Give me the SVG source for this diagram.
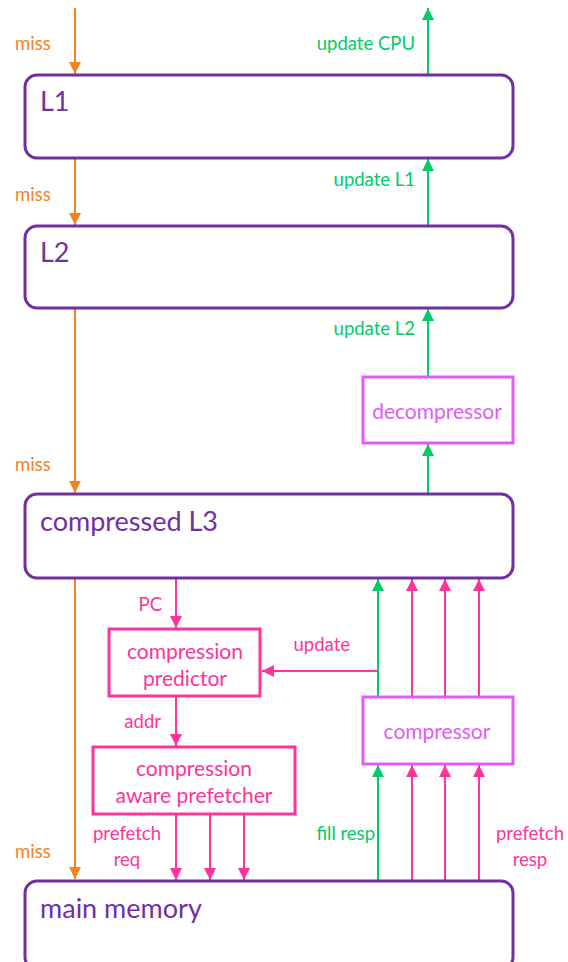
<svg xmlns="http://www.w3.org/2000/svg" width="568" height="962" viewBox="0 0 568 962">
<style>
.cache{fill:#fff;stroke:#7030a0;stroke-width:3}
.pbox{fill:#fff;stroke:#ff3399;stroke-width:3}
.cbox{fill:#fff;stroke:#e05cf5;stroke-width:3}
.big{font-family:Lato,"Liberation Sans",sans-serif;fill:#7030a0;font-size:27px}
.lbl{font-family:Lato,"Liberation Sans",sans-serif;font-size:18.5px}
.btxt{font-family:Lato,"Liberation Sans",sans-serif;font-size:21px;text-anchor:middle}
.o{stroke:#f5821f;stroke-width:2;fill:none}
.g{stroke:#00cc66;stroke-width:2;fill:none}
.p{stroke:#ff3399;stroke-width:2;fill:none}
</style>
<defs>
<marker id="ao" markerUnits="userSpaceOnUse" markerWidth="12" markerHeight="12" viewBox="0 0 12 12" refX="12" refY="6" orient="auto"><path d="M0,0 L12,6 L0,12 z" fill="#f5821f"/></marker>
<marker id="ag" markerUnits="userSpaceOnUse" markerWidth="12" markerHeight="12" viewBox="0 0 12 12" refX="12" refY="6" orient="auto"><path d="M0,0 L12,6 L0,12 z" fill="#00cc66"/></marker>
<marker id="ap" markerUnits="userSpaceOnUse" markerWidth="12" markerHeight="12" viewBox="0 0 12 12" refX="12" refY="6" orient="auto"><path d="M0,0 L12,6 L0,12 z" fill="#ff3399"/></marker>
</defs>
<g id="connectors">
<line class="o" x1="75" y1="8" x2="75" y2="74" marker-end="url(#ao)"/>
<line class="o" x1="75" y1="159" x2="75" y2="225" marker-end="url(#ao)"/>
<line class="o" x1="75" y1="309" x2="75" y2="493" marker-end="url(#ao)"/>
<line class="o" x1="75" y1="579" x2="75" y2="879" marker-end="url(#ao)"/>
<line class="g" x1="428" y1="74" x2="428" y2="8" marker-end="url(#ag)"/>
<line class="g" x1="428" y1="225" x2="428" y2="159" marker-end="url(#ag)"/>
<line class="g" x1="428" y1="376" x2="428" y2="309" marker-end="url(#ag)"/>
<line class="g" x1="428" y1="493" x2="428" y2="444" marker-end="url(#ag)"/>
<line class="p" x1="176" y1="579" x2="176" y2="628" marker-end="url(#ap)"/>
<line class="p" x1="176" y1="697" x2="176" y2="746" marker-end="url(#ap)"/>
<line class="p" x1="378" y1="671" x2="262" y2="671" marker-end="url(#ap)"/>
<line class="p" x1="176" y1="815" x2="176" y2="880" marker-end="url(#ap)"/>
<line class="p" x1="210" y1="815" x2="210" y2="880" marker-end="url(#ap)"/>
<line class="p" x1="244" y1="815" x2="244" y2="880" marker-end="url(#ap)"/>
<line class="g" x1="378" y1="696" x2="378" y2="579" marker-end="url(#ag)"/>
<line class="p" x1="412" y1="696" x2="412" y2="579" marker-end="url(#ap)"/>
<line class="p" x1="445" y1="696" x2="445" y2="579" marker-end="url(#ap)"/>
<line class="p" x1="479" y1="696" x2="479" y2="579" marker-end="url(#ap)"/>
<line class="g" x1="378" y1="880" x2="378" y2="765" marker-end="url(#ag)"/>
<line class="p" x1="412" y1="880" x2="412" y2="765" marker-end="url(#ap)"/>
<line class="p" x1="445" y1="880" x2="445" y2="765" marker-end="url(#ap)"/>
<line class="p" x1="479" y1="880" x2="479" y2="765" marker-end="url(#ap)"/>
<g class="lbl">
<text x="15" y="50" fill="#f5821f">miss</text>
<text x="15" y="201" fill="#f5821f">miss</text>
<text x="15" y="471" fill="#f5821f">miss</text>
<text x="15" y="858" fill="#f5821f">miss</text>
<text x="415" y="50" fill="#00cc66" text-anchor="end">update CPU</text>
<text x="415" y="186" fill="#00cc66" text-anchor="end">update L1</text>
<text x="415" y="335" fill="#00cc66" text-anchor="end">update L2</text>
<text x="162" y="611" fill="#ff3399" text-anchor="end">PC</text>
<text x="350" y="651" fill="#ff3399" text-anchor="end">update</text>
<text x="161" y="728" fill="#ff3399" text-anchor="end">addr</text>
<text x="127" y="840" fill="#ff3399" text-anchor="middle">prefetch</text>
<text x="127" y="866" fill="#ff3399" text-anchor="middle">req</text>
<text x="375" y="840" fill="#00cc66" text-anchor="end">fill resp</text>
<text x="530" y="840" fill="#ff3399" text-anchor="middle">prefetch</text>
<text x="530" y="866" fill="#ff3399" text-anchor="middle">resp</text>
</g>
</g>
<g id="L1"><rect class="cache" x="25" y="75" width="488" height="83" rx="12"/><text class="big" x="40" y="111">L1</text></g>
<g id="L2"><rect class="cache" x="25" y="226" width="488" height="82" rx="12"/><text class="big" x="40" y="262">L2</text></g>
<g id="decompressor"><rect class="cbox" x="363" y="377" width="150" height="66"/><text class="btxt" x="437" y="419" fill="#e05cf5">decompressor</text></g>
<g id="L3"><rect class="cache" x="25" y="494" width="488" height="84" rx="12"/><text class="big" x="40" y="531">compressed L3</text></g>
<g id="predictor"><rect class="pbox" x="109" y="629" width="151" height="67"/><text class="btxt" x="185" y="659" fill="#ff3399">compression</text><text class="btxt" x="185" y="686" fill="#ff3399">predictor</text></g>
<g id="prefetcher"><rect class="pbox" x="93" y="747" width="202" height="67"/><text class="btxt" x="194" y="776" fill="#ff3399">compression</text><text class="btxt" x="194" y="803" fill="#ff3399">aware prefetcher</text></g>
<g id="compressor"><rect class="cbox" x="363" y="697" width="150" height="67"/><text class="btxt" x="437" y="739" fill="#e05cf5">compressor</text></g>
<g id="memory"><rect class="cache" x="25" y="881" width="488" height="88" rx="12"/><text class="big" x="40" y="918">main memory</text></g>
</svg>
